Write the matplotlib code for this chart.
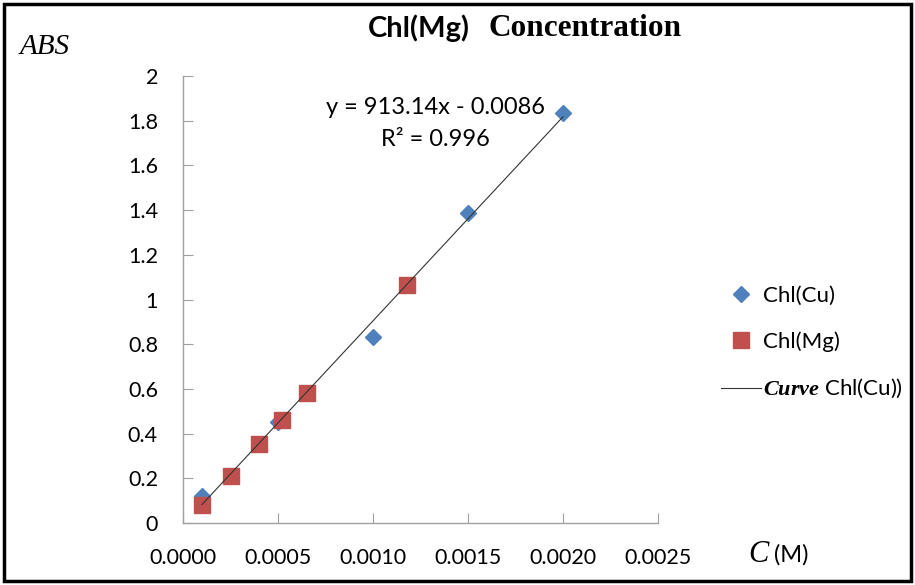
import matplotlib
matplotlib.use("Agg")
import matplotlib.pyplot as plt
from matplotlib.patches import Rectangle
import numpy as np

# Data
cu_x = [0.0001, 0.0005, 0.0010, 0.0015, 0.0020]
cu_y = [0.12, 0.45, 0.83, 1.385, 1.835]
mg_x = [0.0001, 0.00025, 0.0004, 0.00052, 0.00065, 0.00118]
mg_y = [0.08, 0.21, 0.355, 0.46, 0.58, 1.065]
slope, intercept = 913.14, -0.0086
x_ticks = [0.0, 0.0005, 0.0010, 0.0015, 0.0020, 0.0025]
x_tick_labels = ["0.0000", "0.0005", "0.0010", "0.0015", "0.0020", "0.0025"]
y_ticks = [0, 0.2, 0.4, 0.6, 0.8, 1.0, 1.2, 1.4, 1.6, 1.8, 2.0]
y_tick_labels = ["0", "0.2", "0.4", "0.6", "0.8", "1", "1.2", "1.4", "1.6", "1.8", "2"]

plt.rcParams['mathtext.fontset'] = 'custom'
plt.rcParams['mathtext.it'] = 'Liberation Serif:italic:bold'
plt.rcParams['mathtext.rm'] = 'Lato'

SANS = 'Lato'
SERIF = 'Liberation Serif'

fig = plt.figure(figsize=(9.15, 5.85), dpi=100)
ax = fig.add_axes([183/915, 1-523/585, (658-183)/915, (523-76)/585])

ax.plot(cu_x, cu_y, linestyle='none', marker='D', markersize=8.5,
        color='#4F81BD', label='Chl(Cu)', zorder=3)
ax.plot(mg_x, mg_y, linestyle='none', marker='s', markersize=11,
        color='#C0504D', label='Chl(Mg)', zorder=4)
fx = np.array([min(cu_x), max(cu_x)])
ax.plot(fx, slope*fx + intercept, color='#333333', lw=0.8,
        label=r'$\mathit{Curve}$ Chl(Cu))', zorder=5)

ax.set_xlim(0, 0.0025)
ax.set_ylim(0, 2)
ax.set_xticks(x_ticks)
ax.set_xticklabels(x_tick_labels)
ax.set_yticks(y_ticks)
ax.set_yticklabels(y_tick_labels)
for s in ['top', 'right']:
    ax.spines[s].set_visible(False)
for s in ['left', 'bottom']:
    ax.spines[s].set_color('#A0A0A0')
    ax.spines[s].set_linewidth(1.0)
ax.tick_params(axis='both', direction='in', length=7, color='#A0A0A0',
               labelsize=15.5, labelcolor='black')
ax.tick_params(axis='x', pad=18)
ax.tick_params(axis='y', pad=18)
for lab in ax.get_xticklabels() + ax.get_yticklabels():
    lab.set_family(SANS)

ax.text(0.00133, 1.86, "y = 913.14x - 0.0086",
        ha='center', va='center', fontsize=17, family=SANS)
ax.text(0.00133, 1.715, "R² = 0.996",
        ha='center', va='center', fontsize=17, family=SANS)

leg = ax.legend(loc='center left', bbox_to_anchor=(721/915, 1-343/585),
                bbox_transform=fig.transFigure, frameon=False,
                prop={'family': SANS, 'size': 16}, handlelength=1.8,
                handletextpad=0.1, labelspacing=1.15, borderaxespad=0,
                borderpad=0)

# Title
fig.text(470/915, 1-28/585, "Chl(Mg)", ha='right', va='center',
         fontsize=21, fontweight='bold', family=SANS)
fig.text(488/915, 1-28/585, "Concentration", ha='left', va='center',
         fontsize=22.5, fontweight='bold', family=SERIF)
fig.text(20/915, 1-47/585, "ABS", ha='left', va='center',
         fontsize=21, style='italic', family=SERIF)
fig.text(748/915, 1-555/585, "C", ha='left', va='center',
         fontsize=22, style='italic', family=SERIF)
fig.text(774/915, 1-555/585, "(M)", ha='left', va='center',
         fontsize=17, family=SANS)

fig.patches.append(Rectangle((0.004, 0.006), 0.992, 0.988, transform=fig.transFigure,
                             fill=False, edgecolor='black', linewidth=2.5))

fig.savefig("out.png", dpi=100)
